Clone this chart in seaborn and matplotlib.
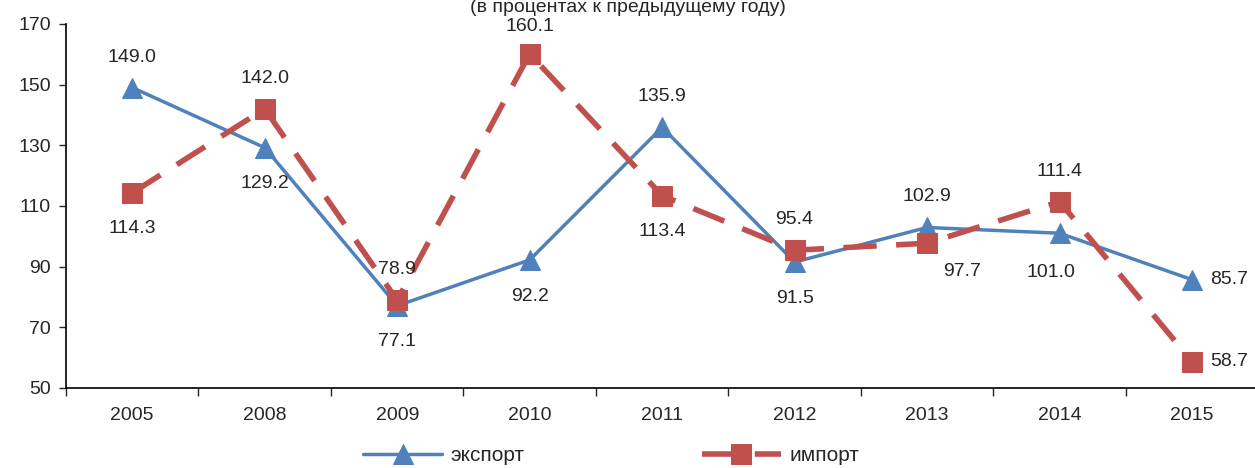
import pandas as pd
import matplotlib
matplotlib.use("Agg")
import matplotlib.pyplot as plt
import seaborn as sns

# Data
years = ["2005", "2008", "2009", "2010", "2011", "2012", "2013", "2014", "2015"]
export_vals = [149.0, 129.2, 77.1, 92.2, 135.9, 91.5, 102.9, 101.0, 85.7]
import_vals = [114.3, 142.0, 78.9, 160.1, 113.4, 95.4, 97.7, 111.4, 58.7]

# label placement (offset in points)
export_offsets = [(0, 22), (0, -26), (0, -26), (0, -26), (0, 22), (0, -26), (0, 22), (-6, -28), (27, 0)]
import_offsets = [(0, -26), (0, 22), (0, 22), (0, 20), (0, -26), (0, 22), (25, -20), (0, 22), (27, 0)]

blue = "#4F81BD"
red = "#C0504D"

sns.set_style("ticks")
plt.rcParams["font.family"] = ["Liberation Sans", "DejaVu Sans"]

x = list(range(len(years)))
df = pd.DataFrame({"x": x, "export": export_vals, "import": import_vals})

fig = plt.figure(figsize=(12.55, 4.68), dpi=100)
ax = fig.add_axes([0.0526, 0.171, 0.95, 0.778])

sns.lineplot(data=df, x="x", y="export", ax=ax, color=blue, linewidth=2.5,
             marker="^", markersize=15, markeredgecolor=blue, label="экспорт")
sns.lineplot(data=df, x="x", y="import", ax=ax, color=red, linewidth=4,
             marker="s", markersize=14, markeredgecolor=red, label="импорт")
ax.lines[1].set_dashes([6, 3.5])

for i in x:
    ax.annotate(f"{export_vals[i]:.1f}", (i, export_vals[i]), xytext=export_offsets[i],
                textcoords="offset points", ha="center", va="center", fontsize=14)
    ax.annotate(f"{import_vals[i]:.1f}", (i, import_vals[i]), xytext=import_offsets[i],
                textcoords="offset points", ha="center", va="center", fontsize=14)

ax.set_xlim(-0.5, 8.5)
ax.set_ylim(50, 170)
ax.set_yticks(range(50, 171, 20))
ax.set_xticks(x)
ax.set_xticklabels(years)
ax.set_xticks([i + 0.5 for i in range(-1, 9)], minor=True)
ax.tick_params(axis="x", which="major", length=0, pad=14, labelsize=14)
ax.tick_params(axis="x", which="minor", length=6, width=1)
ax.tick_params(axis="y", length=5, width=1, labelsize=14, pad=6)
ax.set_xlabel("")
ax.set_ylabel("")
ax.get_legend().remove()
for s in ["top", "right"]:
    ax.spines[s].set_visible(False)
for s in ["left", "bottom"]:
    ax.spines[s].set_color("black")
    ax.spines[s].set_linewidth(1.2)

handles, labels = ax.get_legend_handles_labels()
fig.legend(handles, labels, loc="lower center", bbox_to_anchor=(0.487, -0.02), ncol=2,
           frameon=False, fontsize=15, columnspacing=8.5, handlelength=3.8,
           borderpad=0.1, handletextpad=0.4)

fig.text(0.5, 1.003, "(в процентах к предыдущему году)", ha="center", va="top",
         fontsize=14)

fig.savefig("out.png", dpi=100)
